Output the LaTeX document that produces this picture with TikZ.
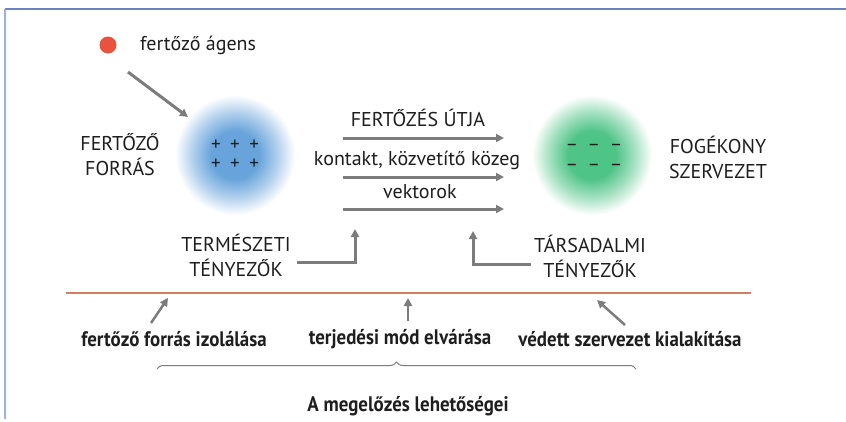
\documentclass[tikz,border=0pt]{standalone}
\usepackage{fontspec}
\setmainfont{PT Sans}
\newfontfamily\condfont[FakeStretch=0.9]{PT Sans}
\usetikzlibrary{arrows.meta,decorations.pathreplacing}
\definecolor{frameblue}{HTML}{6F80C2}
\definecolor{frameleft}{HTML}{9DB0E2}
\definecolor{agentred}{HTML}{E8533F}
\definecolor{arrowgray}{HTML}{7C7C7C}
\definecolor{blobblue}{HTML}{68A4DB}
\definecolor{blobgreen}{HTML}{4FC487}
\definecolor{lineorange}{HTML}{D97E5C}
\definecolor{txt}{HTML}{1E1E1E}
\pgfdeclareradialshading{blueblob}{\pgfpoint{0bp}{0bp}}{color(0bp)=(blobblue);color(10bp)=(blobblue);color(18bp)=(blobblue!50!white);color(25bp)=(white);color(50bp)=(white)}
\pgfdeclareradialshading{greenblob}{\pgfpoint{0bp}{0bp}}{color(0bp)=(blobgreen);color(10bp)=(blobgreen);color(18bp)=(blobgreen!50!white);color(25bp)=(white);color(50bp)=(white)}
\tikzset{
  lbl/.style={text=txt,font=\fontsize{20}{25}\selectfont,align=center,inner sep=0pt},
  sym/.style={text=txt,font=\fontsize{19}{19}\selectfont,inner sep=0pt},
  botlbl/.style={text=txt,font=\condfont\bfseries\fontsize{21}{25}\selectfont,inner sep=0pt},
  garrow/.style={draw=arrowgray,line width=3pt,-{Triangle[length=8pt,width=8pt]}},
}
\begin{document}
\begin{tikzpicture}[x=1pt,y=-1pt]
\useasboundingbox (0,0) rectangle (846,421);
\fill[white] (0,0) rectangle (846,421);
% frame
\draw[frameblue,line width=1.5pt] (5,9) -- (846,9);
\draw[frameleft,line width=1.5pt] (5,9) -- (5,419);
% agent
\node[circle,fill=agentred,minimum size=17pt,inner sep=0pt] (dot) at (108,45) {};
\node[lbl,anchor=west] (agens) at (140,45) {fertőző ágens};
\coordinate (agstart) at (128,72);
\coordinate (agend) at (188,117);
\draw[garrow] (agstart) -- (agend);
% blobs
\shade[shading=blueblob] (235,155) circle (60);
\shade[shading=greenblob] (592,155) circle (60);
\node[sym] (plusa) at (235,145) {+\,\,\,+\,\,\,+};
\node[sym] (plusb) at (235,164) {+\,\,\,+\,\,\,+};
\node[sym] (minusa) at (594,147) {--\,\,\,--\,\,\,--};
\node[sym] (minusb) at (594,167) {--\,\,\,--\,\,\,--};
% side labels
\node[lbl] (forras) at (120,155) {FERTŐZŐ\\FORRÁS};
\node[lbl] (fogekony) at (718,157) {FOGÉKONY\\SZERVEZET};
% routes
\node[lbl] (utja) at (418,118) {FERTŐZÉS ÚTJA};
\node[lbl] (kontakt) at (417,160) {kontakt, közvetítő közeg};
\node[lbl] (vektor) at (420,192) {vektorok};
\coordinate (a1s) at (343,138); \coordinate (a1e) at (504,138);
\coordinate (a2s) at (343,177); \coordinate (a2e) at (504,177);
\coordinate (a3s) at (343,209); \coordinate (a3e) at (504,209);
\draw[garrow] (a1s) -- (a1e);
\draw[garrow] (a2s) -- (a2e);
\draw[garrow] (a3s) -- (a3e);
% factors
\node[lbl] (term) at (236,255) {TERMÉSZETI\\TÉNYEZŐK};
\node[lbl] (tars) at (590,256) {TÁRSADALMI\\TÉNYEZŐK};
\coordinate (t1) at (297,262); \coordinate (t2) at (355,229);
\draw[garrow] (t1) -| (t2);
\coordinate (s1) at (531,264); \coordinate (s2) at (473,231);
\draw[garrow] (s1) -| (s2);
% separator
\draw[lineorange,line width=1.2pt] (66,293) -- (751,293);
% bottom
\node[botlbl] (izol) at (174,339) {fertőző forrás izolálása};
\node[botlbl] (terj) at (400,339) {terjedési mód elvárása};
\node[botlbl] (vedett) at (630,339) {védett szervezet kialakítása};
\coordinate (b1s) at (151,323); \coordinate (b1e) at (168,298);
\coordinate (b2s) at (408,321); \coordinate (b2e) at (408,298);
\coordinate (b3s) at (625,325); \coordinate (b3e) at (597,300);
\draw[garrow,line width=2.5pt] (b1s) -- (b1e);
\draw[garrow,line width=2.5pt] (b2s) -- (b2e);
\draw[garrow,line width=2.5pt] (b3s) -- (b3e);
\coordinate (brl) at (157,369); \coordinate (brr) at (636,369);
\draw[arrowgray,line width=1pt,decorate,decoration={brace,mirror,amplitude=7pt}] (brr) -- (brl);
\node[botlbl] (meg) at (408,406) {A megelőzés lehetőségei};
\end{tikzpicture}
\end{document}
